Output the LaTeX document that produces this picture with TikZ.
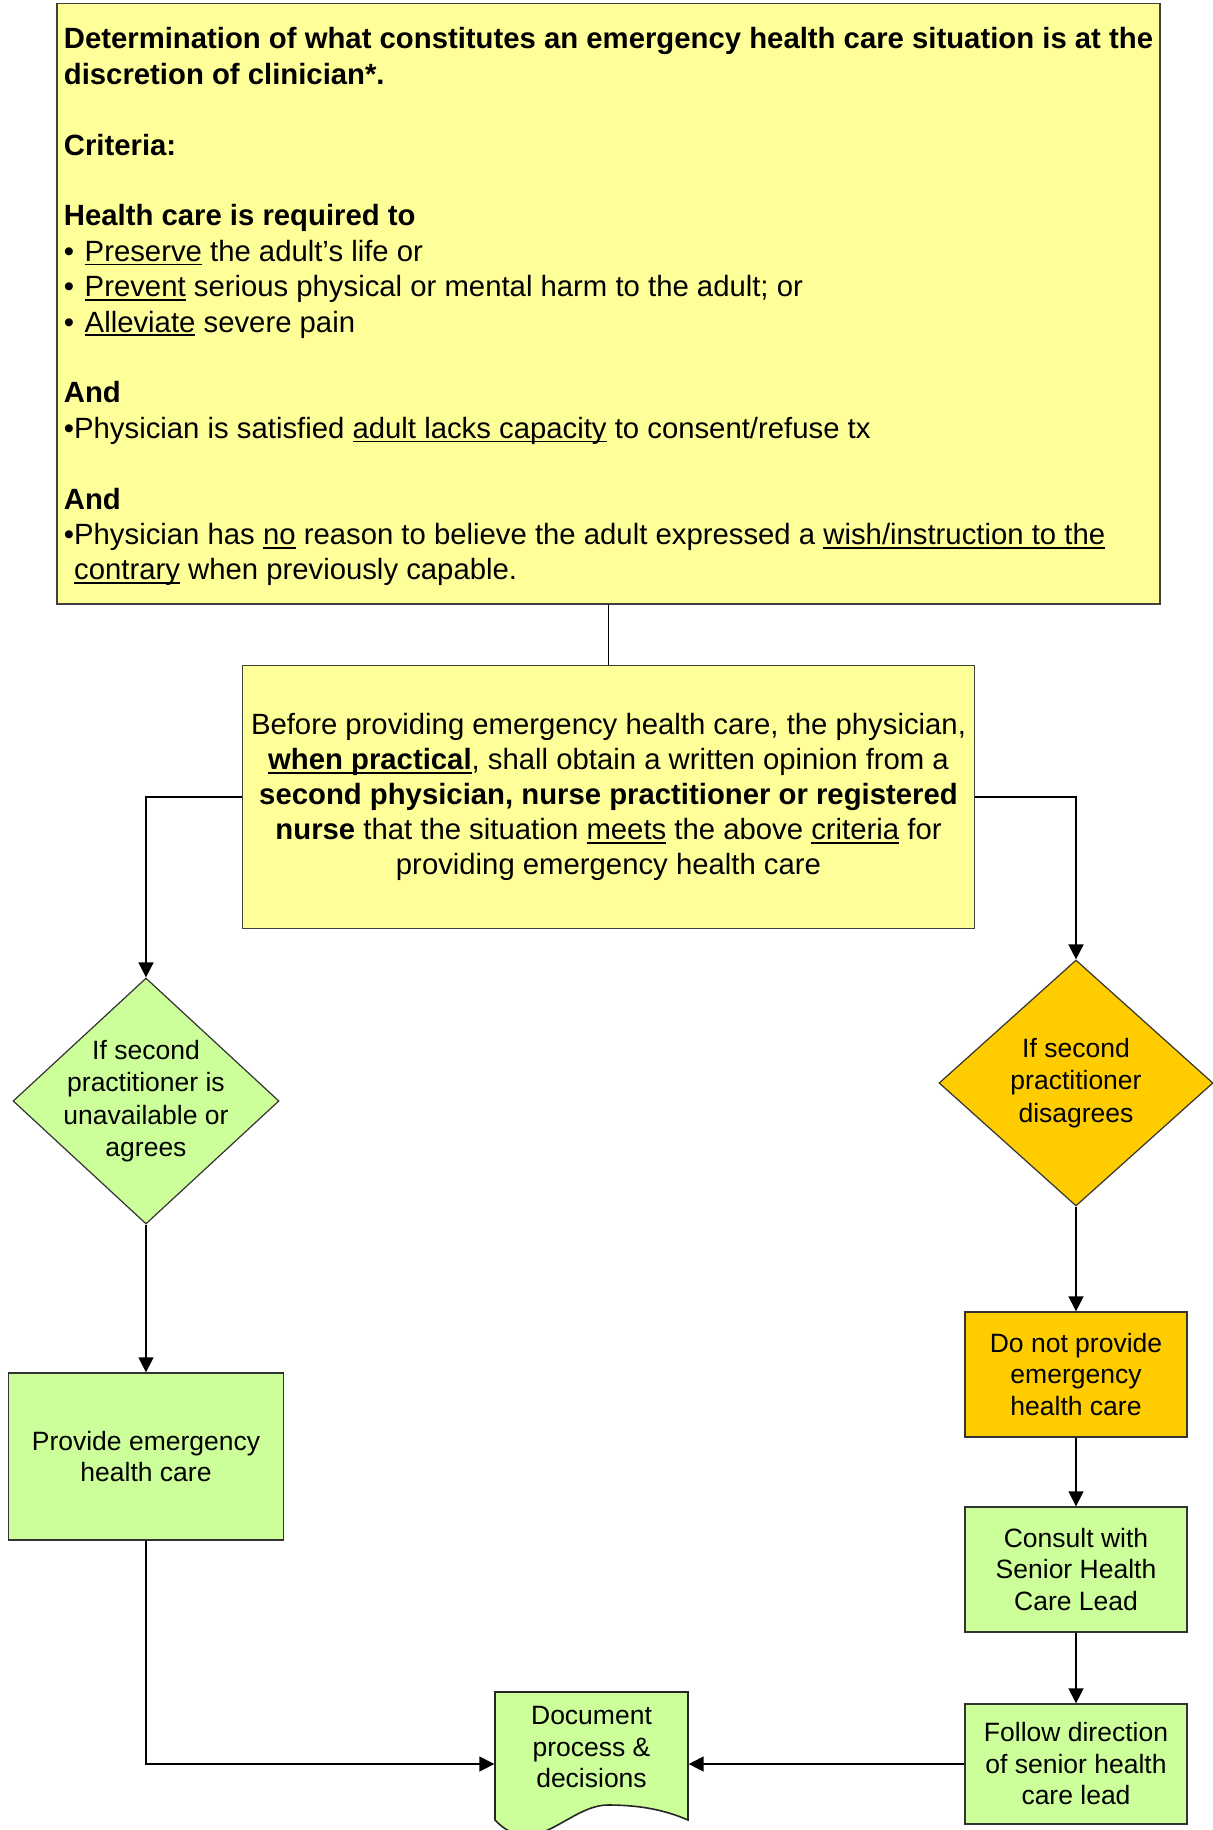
\documentclass[tikz,border=0pt]{standalone}
\usepackage{fontspec}
\setmainfont{Liberation Sans}
\usetikzlibrary{positioning,shapes.geometric,arrows.meta}
\usepackage{xcolor}
\definecolor{paleyellow}{RGB}{255,255,153}
\definecolor{palegreen}{RGB}{204,255,153}
\definecolor{amber}{RGB}{255,204,0}
\newsavebox{\undlbox}
\newcommand{\undl}[1]{\sbox{\undlbox}{#1}\rlap{\rule[-2.1pt]{\wd\undlbox}{0.9pt}}\usebox{\undlbox}}
\newcommand{\listbullet}{\textbullet\hspace{5.3pt}}

\begin{document}
\begin{tikzpicture}[x=0.5pt, y=-0.5pt,
        infobox/.style={rectangle, draw=black!75, line width=0.6pt, fill=paleyellow},
        decision/.style={diamond, draw=black!80, line width=0.6pt, inner sep=0pt},
        stepbox/.style={rectangle, draw=black!80, line width=0.7pt, align=center, font=\fontsize{13.25}{15.75}\selectfont},
        labeltext/.style={align=center, font=\fontsize{13.25}{16.15}\selectfont},
        arrowline/.style={-{Triangle[length=7.5pt,width=7.5pt]}, line width=0.8pt},
        plainline/.style={-, line width=0.8pt}
      ]
      \useasboundingbox (0,0) rectangle (1213,1830);

      % Criteria (top)
      \node[infobox, minimum width=551.5pt, minimum height=300.25pt,
            label={[align=left, yshift=-1.5pt, font=\fontsize{14.65}{17.7}\selectfont]center:{%
        \textbf{Determination of what constitutes an emergency health care situation is at the}\\
        \textbf{discretion of clinician*.}\\[17.7pt]
        \textbf{Criteria:}\\[17.7pt]
        \textbf{Health care is required to}\\
        \listbullet\undl{Preserve} the adult’s life or\\
        \listbullet\undl{Prevent} serious physical or mental harm to the adult; or\\
        \listbullet\undl{Alleviate} severe pain\\[17.7pt]
        \textbf{And}\\
        \textbullet Physician is satisfied \undl{adult lacks capacity} to consent/refuse tx\\[17.7pt]
        \textbf{And}\\
        \textbullet Physician has \undl{no} reason to believe the adult expressed a \undl{wish/instruction to the}\\
        \hphantom{\textbullet}\undl{contrary} when previously capable.}}] (crit) at (608.5,303.75) {};

      % Second opinion
      \node[infobox, align=center, minimum width=366pt, minimum height=131.5pt,
            font=\fontsize{14.65}{17.5}\selectfont] (before) at (608.5,797) {%
        Before providing emergency health care, the physician,\\
        \textbf{\undl{when practical}}, shall obtain a written opinion from a\\
        \textbf{second physician, nurse practitioner or registered}\\
        \textbf{nurse} that the situation \undl{meets} the above \undl{criteria} for\\
        providing emergency health care};

      % Decisions
      \node[decision, fill=palegreen, minimum width=133pt, minimum height=123pt,
            label={[labeltext]center:{If second\\practitioner is\\unavailable or\\agrees}}] (agree) at (146,1101) {};
      \node[decision, fill=amber, minimum width=137pt, minimum height=123pt,
            label={[labeltext]center:{If second\\practitioner\\disagrees}}] (disagree) at (1076,1083) {};

      % Left branch
      \node[stepbox, fill=palegreen, minimum width=137.5pt, minimum height=83.5pt] (provide) at (146,1456.5) {Provide emergency\\health care};

      % Right branch
      \node[stepbox, fill=amber, minimum width=111pt, minimum height=62.5pt] (donot) at (1076,1374.5) {Do not provide\\emergency\\health care};
      \node[stepbox, fill=palegreen, minimum width=111pt, minimum height=62.5pt] (consult) at (1076,1569.5) {Consult with\\Senior Health\\Care Lead};
      \node[stepbox, fill=palegreen, minimum width=111pt, minimum height=60pt] (follow) at (1076,1764) {Follow direction\\of senior health\\care lead};

      % Document
      \draw[fill=palegreen, draw=black!85, line width=0.8pt]
        (495,1692) -- (688,1692) -- (688,1820)
        .. controls (665,1810) and (640,1805) .. (608,1805)
        .. controls (568,1805) and (535,1862) .. (495,1820) -- cycle;
      \node[stepbox, draw=none, minimum width=96.5pt] (doc) at (591.5,1747) {Document\\process \&\\decisions};

      % Connections
      \draw[plainline] (crit) -- (before);
      \draw[arrowline] (before.west) -| (agree.north);
      \draw[arrowline] (before.east) -| (disagree.north);
      \draw[arrowline] (agree) -- (provide);
      \draw[arrowline] (disagree) -- (donot);
      \draw[arrowline] (donot) -- (consult);
      \draw[arrowline] (consult) -- (follow);
      \draw[arrowline] (provide.south) |- (doc.west |- follow.west);
      \draw[arrowline] (follow.west) -- (follow.west -| doc.east);

    \end{tikzpicture}
\end{document}
